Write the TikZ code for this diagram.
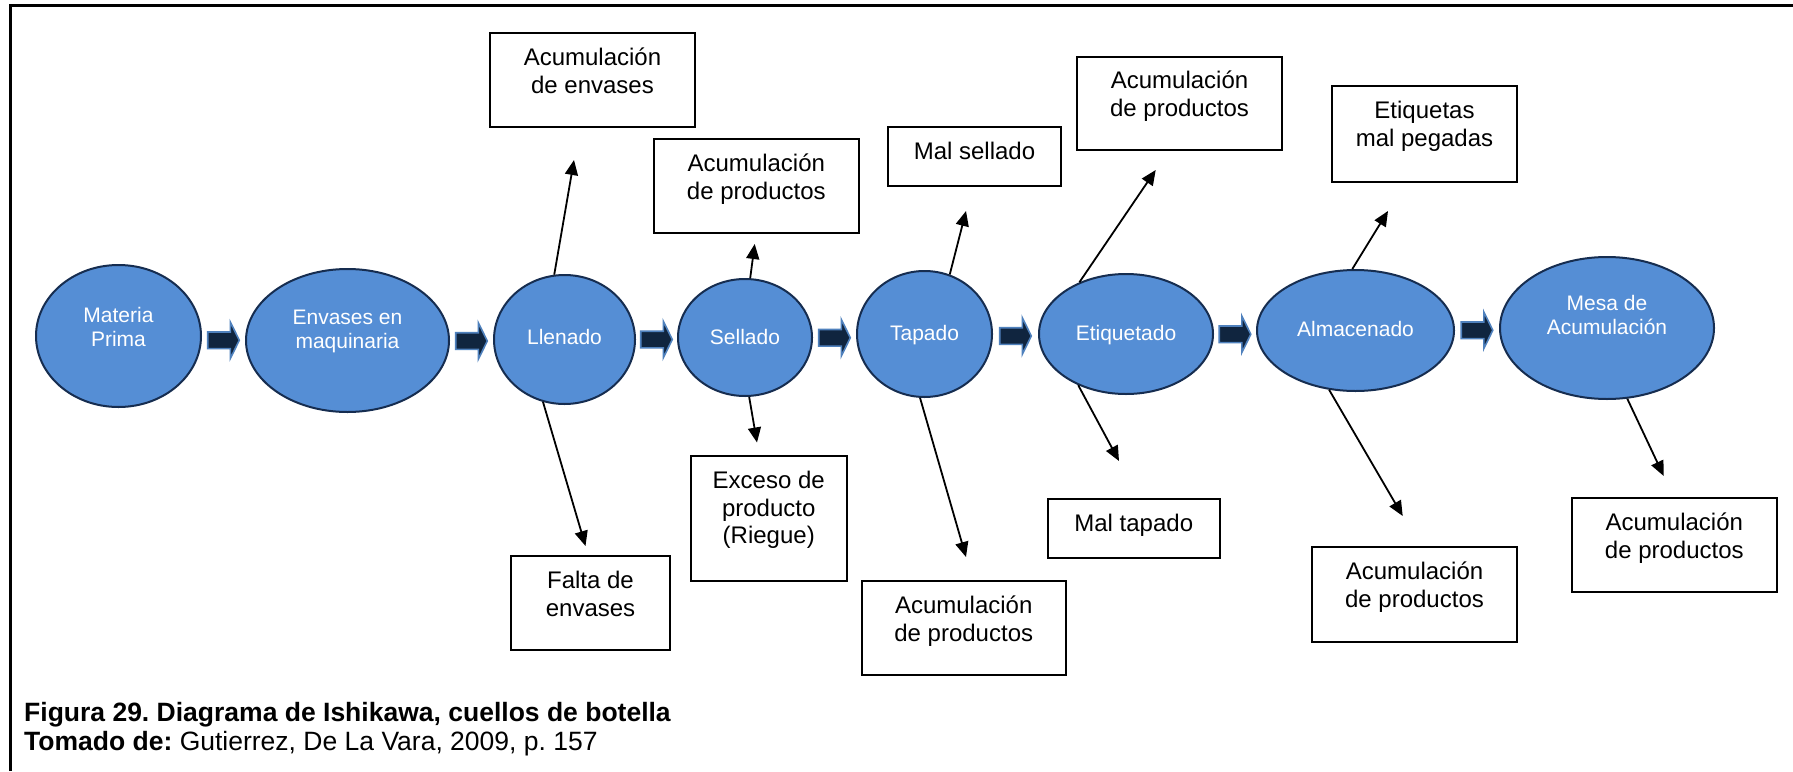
\documentclass[tikz,border=0pt]{standalone}
\usepackage{fontspec}
\setmainfont{Liberation Sans}
\usetikzlibrary{shapes.geometric,arrows.meta,calc}
\definecolor{ellfill}{RGB}{85,142,213}
\definecolor{elldraw}{RGB}{22,45,80}
\definecolor{blkfill}{RGB}{16,37,63}
\definecolor{blkdraw}{RGB}{79,129,189}
\newcommand\blkarrow[1]{\draw[blockarr] ([shift={(-15.8,-8.3)}]#1) -- ([shift={(6.8,-8.3)}]#1) -- ([shift={(6.8,-18.3)}]#1) -- ([shift={(15.8,0)}]#1) -- ([shift={(6.8,18.3)}]#1) -- ([shift={(6.8,8.3)}]#1) -- ([shift={(-15.8,8.3)}]#1) -- cycle;}
\newcommand\estrut{\rule{0pt}{20pt}}
\newcommand\bstrut{\rule{0pt}{30pt}}
\frenchspacing
\begin{document}
\begin{tikzpicture}[x=1pt,y=-1pt,
 proc/.style={ellipse, draw=elldraw, fill=ellfill, line width=2pt, inner sep=0pt},
 ptext/.style={anchor=north, align=center, text=white, inner sep=0pt, font=\fontsize{21}{23.5}\selectfont},
 box/.style={draw=black, line width=2pt, inner sep=0pt, fill=white},
 btext/.style={anchor=north, align=center, inner sep=0pt, font=\fontsize{24}{27.8}\selectfont},
 conn/.style={line width=1.8pt, -{Triangle[length=15pt,width=13pt]}},
 blockarr/.style={fill=blkfill, draw=blkdraw, line width=1.6pt}]
\useasboundingbox (0,0) rectangle (1793,771);
\fill[white] (0,0) rectangle (1793,771);
\draw[line width=2.7pt] (10.3,771) -- (10.3,5.3) -- (1793,5.3);

% process ellipses
\node[proc, minimum width=165, minimum height=142] (e1) at (118.5,336) {};
\node[proc, minimum width=203, minimum height=143] (e2) at (347.5,340.5) {};
\node[proc, minimum width=141, minimum height=129] (e3) at (564.5,339.5) {};
\node[proc, minimum width=134, minimum height=117] (e4) at (745,337.5) {};
\node[proc, minimum width=135, minimum height=126] (e5) at (924.5,334) {};
\node[proc, minimum width=174, minimum height=120] (e6) at (1126,334) {};
\node[proc, minimum width=197, minimum height=121] (e7) at (1355.5,330.5) {};
\node[proc, minimum width=214, minimum height=142] (e8) at (1607,328) {};

\node[ptext] (e1t) at ([yshift=33.5pt]e1.center) {\estrut Materia\\Prima};
\node[ptext] (e2t) at ([yshift=36pt]e2.center) {\estrut Envases en\\maquinaria};
\node[ptext] (e3t) at ([yshift=15pt]e3.center) {\estrut Llenado};
\node[ptext] (e4t) at ([yshift=13pt]e4.center) {\estrut Sellado};
\node[ptext] (e5t) at ([yshift=13.5pt]e5.center) {\estrut Tapado};
\node[ptext] (e6t) at ([yshift=13.5pt]e6.center) {\estrut Etiquetado};
\node[ptext] (e7t) at ([yshift=14pt]e7.center) {\estrut Almacenado};
\node[ptext] (e8t) at ([yshift=37.5pt]e8.center) {\estrut Mesa de\\Acumulación};

% block arrows between steps
\path ($(e1.east)!.5!(e2.west)$) ++(0,2) coordinate (m1);
\path ($(e2.east)!.5!(e3.west)$) ++(0,1) coordinate (m2);
\path ($(e3.east)!.5!(e4.west)$) ++(0,1) coordinate (m3);
\path ($(e4.east)!.5!(e5.west)$) ++(0,2) coordinate (m4);
\path ($(e5.east)!.5!(e6.west)$) ++(0,2) coordinate (m5);
\path ($(e6.east)!.5!(e7.west)$) ++(0,2) coordinate (m6);
\path ($(e7.east)!.5!(e8.west)$) ++(0,1) coordinate (m7);
\blkarrow{m1}\blkarrow{m2}\blkarrow{m3}\blkarrow{m4}\blkarrow{m5}\blkarrow{m6}\blkarrow{m7}

% cause boxes
\node[box, minimum width=205, minimum height=94] (b1) at (592.5,80) {};
\node[box, minimum width=159, minimum height=94] (b2) at (590.5,603) {};
\node[box, minimum width=205.4, minimum height=93.5] (b3) at (756.3,185.75) {};
\node[box, minimum width=155.5, minimum height=125] (b4) at (768.75,518.5) {};
\node[box, minimum width=173, minimum height=59] (b5) at (974.5,156.5) {};
\node[box, minimum width=204.5, minimum height=93.5] (b6) at (963.75,627.75) {};
\node[box, minimum width=205, minimum height=93.5] (b7) at (1179.5,103.25) {};
\node[box, minimum width=172.5, minimum height=59] (b8) at (1133.75,528.5) {};
\node[box, minimum width=185, minimum height=96] (b9) at (1424.5,134) {};
\node[box, minimum width=205, minimum height=94.6] (b10) at (1414.5,594.3) {};
\node[box, minimum width=204.6, minimum height=94] (b11) at (1674.3,545) {};

\node[btext] (b1t) at ([yshift=-3pt]b1.north) {\bstrut Acumulación\\de envases};
\node[btext] (b2t) at ([yshift=-3pt]b2.north) {\bstrut Falta de\\envases};
\node[btext] (b3t) at ([yshift=-3pt]b3.north) {\bstrut Acumulación\\de productos};
\node[btext] (b4t) at ([yshift=-3pt]b4.north) {\bstrut Exceso de\\producto\\(Riegue)};
\node[btext] (b5t) at ([yshift=-3pt]b5.north) {\bstrut Mal sellado};
\node[btext] (b6t) at ([yshift=-3pt]b6.north) {\bstrut Acumulación\\de productos};
\node[btext] (b7t) at ([yshift=-3pt]b7.north) {\bstrut Acumulación\\de productos};
\node[btext] (b8t) at ([yshift=-3pt]b8.north) {\bstrut Mal tapado};
\node[btext] (b9t) at ([yshift=-3pt]b9.north) {\bstrut Etiquetas\\mal pegadas};
\node[btext] (b10t) at ([yshift=-3pt]b10.north) {\bstrut Acumulación\\de productos};
\node[btext] (b11t) at ([yshift=-3pt]b11.north) {\bstrut Acumulación\\de productos};

% cause arrows
\coordinate (t1) at (574,160);
\coordinate (t2) at (585.5,546);
\coordinate (t3) at (754.7,244);
\coordinate (t4) at (757,442.5);
\coordinate (t5) at (966,211);
\coordinate (t6) at (966,557);
\coordinate (t7) at (1155.7,170);
\coordinate (t8) at (1119,461);
\coordinate (t9) at (1388,211);
\coordinate (t10) at (1402.7,516);
\coordinate (t11) at (1663.7,476);
\draw[conn] (e3.99) -- (t1);
\draw[conn] (e3.251) -- (t2);
\draw[conn] (e4.85) -- (t3);
\draw[conn] (e4.274) -- (t4);
\draw[conn] (e5.67) -- (t5);
\draw[conn] (e5.266) -- (t6);
\draw[conn] (e6.132) -- (t7);
\draw[conn] (e6.227) -- (t8);
\draw[conn] (e7.93) -- (t9);
\draw[conn] (e7.246) -- (t10);
\draw[conn] (e8.286) -- (t11);

% caption
\node[anchor=north west, align=left, inner sep=0pt, font=\fontsize{26.5}{29}\selectfont] (cap) at (24,696.5) {\rule{0pt}{25pt}\textbf{Figura 29. Diagrama de Ishikawa, cuellos de botella}\\\textbf{Tomado de:} Gutierrez, De La Vara, 2009, p. 157};
\end{tikzpicture}
\end{document}
